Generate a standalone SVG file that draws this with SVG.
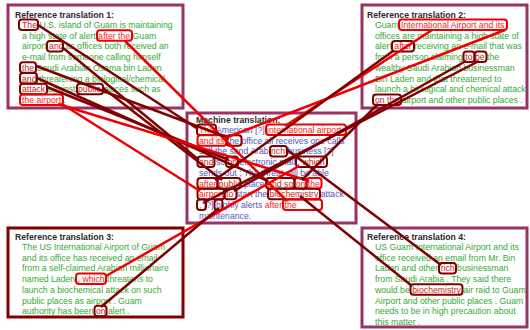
<svg xmlns="http://www.w3.org/2000/svg" width="530" height="330" viewBox="0 0 530 330">
<style>
text{font-family:"Liberation Sans",Arial,sans-serif;font-size:8.7px}
.title{font-weight:bold;fill:#2a2a2a}
.g{fill:#33aa33}
.b{fill:#5555bb}
.r{fill:#ff1a1a}
.d{fill:#cc2222}
.frame{fill:none;stroke:#993366;stroke-width:3}
.frame3{fill:none;stroke:#800000;stroke-width:3}
.hr{fill:none;stroke:#ee0000;stroke-width:2}
.hd{fill:none;stroke:#800000;stroke-width:2}
.cr{stroke:#ee0000;stroke-width:2.5;fill:none}
.cd{stroke:#800000;stroke-width:2.5;fill:none}
</style>
<rect width="530" height="330" fill="#ffffff"/>

<g id="ref1">
<rect class="frame" x="8" y="5" width="175" height="103"/>
<text class="title" x="15" y="18">Reference translation 1:</text>
<text class="g" x="22" y="28"><tspan class="d">The</tspan> U.S. island of Guam is maintaining</text>
<text class="g" x="22" y="38.7">a high state of alert <tspan class="r">after the</tspan> Guam</text>
<text class="g" x="22" y="49.4">airport <tspan class="d">and</tspan> its offices both received an</text>
<text class="g" x="22" y="60.1">e-mail from someone calling himself</text>
<text class="g" x="22" y="70.8"><tspan class="d">the</tspan> Saudi Arabian Osama bin Laden</text>
<text class="g" x="22" y="81.5"><tspan class="d">and</tspan> threatening a biological/chemical</text>
<text class="g" x="22" y="92.2"><tspan class="d">attack</tspan> against <tspan class="d">public</tspan> places such as</text>
<text class="g" x="22" y="102.9"><tspan class="r">the airport</tspan> .</text>
<rect class="hd" x="19" y="19.5" width="19" height="10.5" rx="3"/>
<rect class="hr" x="97" y="30.2" width="35" height="10.5" rx="3"/>
<rect class="hd" x="47" y="40.9" width="16" height="10.5" rx="3"/>
<rect class="hd" x="20" y="62.3" width="16" height="10.5" rx="3"/>
<rect class="hd" x="20" y="73" width="17" height="10.5" rx="3"/>
<rect class="hd" x="20" y="83.7" width="27" height="10.5" rx="3"/>
<rect class="hd" x="77" y="83.7" width="26" height="10.5" rx="3"/>
<rect class="hr" x="20" y="94.4" width="43" height="10.5" rx="3"/>
</g>

<g id="ref2">
<rect class="frame" x="362" y="5" width="165" height="103"/>
<text class="title" x="367" y="18">Reference translation 2:</text>
<text class="g" x="375" y="28">Guam <tspan class="r">International Airport and its</tspan></text>
<text class="g" x="375" y="38.7">offices are maintaining a high state of</text>
<text class="g" x="375" y="49.4">alert <tspan class="d">after</tspan> receiving an e-mail that was</text>
<text class="g" x="375" y="60.1">from a person claiming <tspan class="d">to</tspan> <tspan class="d">be</tspan> the</text>
<text class="g" x="375" y="70.8">wealthy Saudi Arabian businessman</text>
<text class="g" x="375" y="81.5">Bin Laden and that threatened to</text>
<text class="g" x="375" y="92.2">launch a biological and chemical attack</text>
<text class="g" x="375" y="102.9"><tspan class="d">on the</tspan> airport and other public places .</text>
<rect class="hr" x="399" y="19.5" width="108" height="10.5" rx="3"/>
<rect class="hd" x="392" y="40.9" width="22" height="10.5" rx="3"/>
<rect class="hd" x="463.5" y="51.6" width="11" height="10.5" rx="3"/>
<rect class="hd" x="474.5" y="51.6" width="12" height="10.5" rx="3"/>
<rect class="hd" x="373" y="94.4" width="28" height="10.5" rx="3"/>
</g>

<g id="mt">
<rect class="frame" x="187" y="113" width="169" height="110"/>
<text class="title" x="196" y="123">Machine translation:</text>
<text class="b" x="199" y="133"><tspan class="r">The</tspan> American [?] <tspan class="r">international airport</tspan></text>
<text class="b" x="199" y="143.7"><tspan class="r">and its</tspan> the office all receives one calls</text>
<text class="b" x="199" y="154.4">self the sand Arab <tspan class="d">rich</tspan> business [?]</text>
<text class="b" x="199" y="165.1"><tspan class="d">and</tspan> so <tspan class="d">on</tspan> electronic mail <tspan class="d">, which</tspan></text>
<text class="b" x="199" y="175.8">sends out ; The threat will be able</text>
<text class="b" x="199" y="186.5"><tspan class="r">after</tspan> <tspan class="d">public</tspan> place <tspan class="d">and so</tspan> <tspan class="r">on the</tspan></text>
<text class="b" x="199" y="197.2"><tspan class="r">airport</tspan> <tspan class="d">to</tspan> start the <tspan class="d">biochemistry</tspan> attack</text>
<text class="b" x="199" y="207.9">, [?] highly alerts <tspan class="r">after the</tspan></text>
<text class="b" x="199" y="218.6">maintenance.</text>
<rect class="hd" x="197" y="124.5" width="19" height="10.5" rx="3"/>
<rect class="hr" x="266" y="124.5" width="80" height="10.5" rx="3"/>
<rect class="hr" x="197.5" y="135.2" width="29" height="10.5" rx="3"/>
<rect class="hd" x="226.5" y="135.2" width="15" height="10.5" rx="3"/>
<rect class="hd" x="270" y="145.9" width="17" height="10.5" rx="3"/>
<rect class="hd" x="197.5" y="156.6" width="17" height="10.5" rx="3"/>
<rect class="hd" x="226" y="156.6" width="12" height="10.5" rx="3"/>
<rect class="hd" x="296" y="156.6" width="31" height="10.5" rx="3"/>
<rect class="hd" x="197.5" y="178" width="20" height="10.5" rx="3"/>
<rect class="hd" x="217.5" y="178" width="23" height="10.5" rx="3"/>
<rect class="hd" x="266" y="178" width="28.5" height="10.5" rx="3"/>
<rect class="hd" x="294.5" y="178" width="12" height="10.5" rx="3"/>
<rect class="hr" x="306.5" y="178" width="15" height="10.5" rx="3"/>
<rect class="hd" x="197.5" y="188.7" width="27" height="10.5" rx="3"/>
<rect class="hd" x="224.5" y="188.7" width="12" height="10.5" rx="3"/>
<rect class="hd" x="268" y="188.7" width="52" height="10.5" rx="3"/>
<rect class="hd" x="197" y="199.4" width="9" height="10.5" rx="3"/>
<rect class="hd" x="214.5" y="199.4" width="8" height="10.5" rx="3"/>
<rect class="hr" x="283" y="199.4" width="39" height="10.5" rx="3"/>
</g>

<g id="ref3">
<rect class="frame3" x="8" y="228" width="175" height="89"/>
<text class="title" x="15" y="240">Reference translation 3:</text>
<text class="g" x="22" y="250">The US International Airport of Guam</text>
<text class="g" x="22" y="260.7">and its office has received an email</text>
<text class="g" x="22" y="271.4">from a self-claimed Arabian millionaire</text>
<text class="g" x="22" y="282.1">named Laden <tspan class="r">, which</tspan> threatens to</text>
<text class="g" x="22" y="292.8">launch a biochemical attack on such</text>
<text class="g" x="22" y="303.5">public places as airport . Guam</text>
<text class="g" x="22" y="314.2">authority has been <tspan class="d">on</tspan> alert .</text>
<rect class="hr" x="76" y="273.6" width="30" height="10.5" rx="3"/>
<rect class="hd" x="94.5" y="305.7" width="12" height="10.5" rx="3"/>
</g>

<g id="ref4">
<rect class="frame" x="362" y="228" width="165" height="99"/>
<text class="title" x="367" y="240">Reference translation 4:</text>
<text class="g" x="375" y="250">US Guam International Airport and its</text>
<text class="g" x="375" y="260.7">office received an email from Mr. Bin</text>
<text class="g" x="375" y="271.4">Laden and other <tspan class="d">rich</tspan> businessman</text>
<text class="g" x="375" y="282.1">from Saudi Arabia . They said there</text>
<text class="g" x="375" y="292.8">would be <tspan class="d">biochemistry</tspan> air raid to Guam</text>
<text class="g" x="375" y="303.5">Airport and other public places . Guam</text>
<text class="g" x="375" y="314.2">needs to be in high precaution about</text>
<text class="g" x="375" y="324.9">this matter .</text>
<rect class="hd" x="439" y="262.9" width="17" height="10.5" rx="3"/>
<rect class="hd" x="410.5" y="284.3" width="52" height="10.5" rx="3"/>
</g>

<g id="connectors">
<line class="cd" x1="38" y1="25" x2="198" y2="129"/>
<line class="cr" x1="125" y1="41" x2="287" y2="201"/>
<line class="cd" x1="62" y1="47" x2="199" y2="160"/>
<line class="cd" x1="36" y1="66" x2="229" y2="138"/>
<line class="cd" x1="37" y1="78" x2="268" y2="181"/>
<line class="cd" x1="47" y1="87" x2="229" y2="160"/>
<line class="cd" x1="103" y1="88" x2="222" y2="180"/>
<line class="cr" x1="62" y1="104" x2="200" y2="191"/>
<line class="cr" x1="58" y1="104" x2="309" y2="181"/>
<line class="cr" x1="432" y1="30" x2="285" y2="126"/>
<line class="cr" x1="505" y1="30" x2="225" y2="138"/>
<line class="cd" x1="393" y1="51" x2="215" y2="180"/>
<line class="cd" x1="466" y1="61" x2="234" y2="191"/>
<line class="cd" x1="479" y1="61" x2="203" y2="203"/>
<line class="cd" x1="378" y1="104" x2="302" y2="180"/>
<line class="cr" x1="106" y1="276" x2="299" y2="166"/>
<line class="cd" x1="101" y1="307" x2="219" y2="208"/>
<line class="cd" x1="441" y1="265" x2="286" y2="149"/>
<line class="cd" x1="412" y1="286" x2="300" y2="196"/>
</g>
</svg>
